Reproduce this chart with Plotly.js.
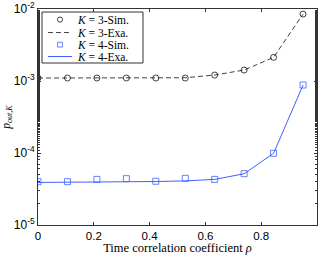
<!DOCTYPE html>
<html><head><meta charset="utf-8">
<script src="https://cdn.plot.ly/plotly-3.0.1.min.js"></script>
<style>html,body{margin:0;padding:0;background:#fff}#chart{width:319px;height:255px}</style>
</head><body><div id="chart"></div>
<script>
var rho = [0, 0.1056, 0.2111, 0.3167, 0.4222, 0.5278, 0.6333, 0.7389, 0.8444, 0.95];
var k3Sim = [1.1e-3, 1.1e-3, 1.1e-3, 1.1e-3, 1.1e-3, 1.1e-3, 1.21e-3, 1.42e-3, 2.13e-3, 8.5e-3];
var k3Exa = [1.1e-3, 1.1e-3, 1.1e-3, 1.1e-3, 1.1e-3, 1.11e-3, 1.21e-3, 1.42e-3, 2.13e-3, 8.5e-3];
var k4Sim = [3.99e-5, 4.0e-5, 4.3e-5, 4.4e-5, 4.05e-5, 4.45e-5, 4.3e-5, 5.16e-5, 9.9e-5, 8.8e-4];
var k4Exa = [3.9e-5, 3.92e-5, 3.95e-5, 3.98e-5, 4.02e-5, 4.1e-5, 4.3e-5, 5.15e-5, 9.9e-5, 8.8e-4];
var yTickVals = [1e-5, 1e-4, 1e-3, 1e-2];
var yTickText = ['10<sup>-5</sup>', '10<sup>-4</sup>', '10<sup>-3</sup>', '10<sup>-2</sup>'];
var xTickVals = [0, 0.2, 0.4, 0.6, 0.8, 1];
var xTickText = ['0', '0.2', '0.4', '0.6', '0.8', '1'];
var names = ['<i>K</i> = 3-Sim.', '<i>K</i> = 3-Exa.', '<i>K</i> = 4-Sim.', '<i>K</i> = 4-Exa.'];

var blue = '#4060ff';
var black = '#111';
var traces = [
  {x: rho, y: k3Sim, mode: 'markers', name: names[0],
   marker: {symbol: 'circle-open', size: 6, color: black, line: {width: 0.8, color: black}}},
  {x: rho, y: k3Exa, mode: 'lines', name: names[1],
   line: {color: black, width: 0.8, dash: '5px,3px'}},
  {x: rho, y: k4Sim, mode: 'markers', name: names[2],
   marker: {symbol: 'square-open', size: 6, color: blue, line: {width: 0.8, color: blue}}},
  {x: rho, y: k4Exa, mode: 'lines', name: names[3],
   line: {color: blue, width: 1}}
];
var axCol = '#333';

// custom compact legend (paper coordinates of the plot area)
var rowY = [0.951, 0.891, 0.835, 0.780];
var shapes = [
  {type: 'rect', xref: 'paper', yref: 'paper', x0: 0.0143, x1: 0.3763, y0: 0.750, y1: 0.986,
   line: {color: axCol, width: 1}, fillcolor: '#fff', layer: 'above'},
  {type: 'circle', xref: 'paper', yref: 'paper', xsizemode: 'pixel', ysizemode: 'pixel',
   xanchor: 0.0789, yanchor: rowY[0], x0: -2.6, x1: 2.6, y0: -2.6, y1: 2.6,
   line: {color: black, width: 0.8}, layer: 'above'},
  {type: 'line', xref: 'paper', yref: 'paper', x0: 0.0358, x1: 0.1219, y0: rowY[1], y1: rowY[1],
   line: {color: black, width: 0.8, dash: '5px,3px'}, layer: 'above'},
  {type: 'rect', xref: 'paper', yref: 'paper', xsizemode: 'pixel', ysizemode: 'pixel',
   xanchor: 0.0789, yanchor: rowY[2], x0: -2.4, x1: 2.4, y0: -2.4, y1: 2.4,
   line: {color: blue, width: 0.8}, layer: 'above'},
  {type: 'line', xref: 'paper', yref: 'paper', x0: 0.0358, x1: 0.1219, y0: rowY[3], y1: rowY[3],
   line: {color: blue, width: 1}, layer: 'above'}
];
var annotations = names.map(function (n, i) {
  return {text: n, xref: 'paper', yref: 'paper', x: 0.1326, y: rowY[i],
    xanchor: 'left', yanchor: 'middle', showarrow: false,
    font: {family: 'Liberation Serif', size: 11.5, color: '#000'}};
});

var layout = {
  width: 319, height: 255,
  margin: {l: 38, r: 2, t: 9, b: 30},
  paper_bgcolor: '#fff', plot_bgcolor: '#fff',
  showlegend: false,
  shapes: shapes,
  annotations: annotations,
  xaxis: {range: [0, 1], tickvals: xTickVals, ticktext: xTickText,
    ticks: 'inside', ticklen: 3, tickcolor: axCol, showline: true, linecolor: axCol, linewidth: 1,
    mirror: 'allticks', showgrid: false, zeroline: false,
    tickfont: {family: 'Liberation Sans', size: 11.5, color: '#000'},
    title: {text: 'Time correlation coefficient <i>ρ</i>', standoff: 4,
      font: {family: 'Liberation Serif', size: 12.5, color: '#000'}}},
  yaxis: {type: 'log', range: [-5, -2], tickvals: yTickVals, ticktext: yTickText,
    ticks: 'inside', ticklen: 3, tickcolor: axCol, showline: true, linecolor: axCol, linewidth: 1,
    mirror: 'allticks', showgrid: false, zeroline: false,
    minor: {ticks: 'inside', ticklen: 2, tickcolor: axCol, showgrid: false},
    tickfont: {family: 'Liberation Sans', size: 12, color: '#000'},
    title: {text: '<i>p</i><sub><i>out,K</i></sub>', standoff: 1,
      font: {family: 'Liberation Serif', size: 11.5, color: '#000'}}}
};
Plotly.newPlot('chart', traces, layout, {displayModeBar: false, staticPlot: true});
</script></body></html>
